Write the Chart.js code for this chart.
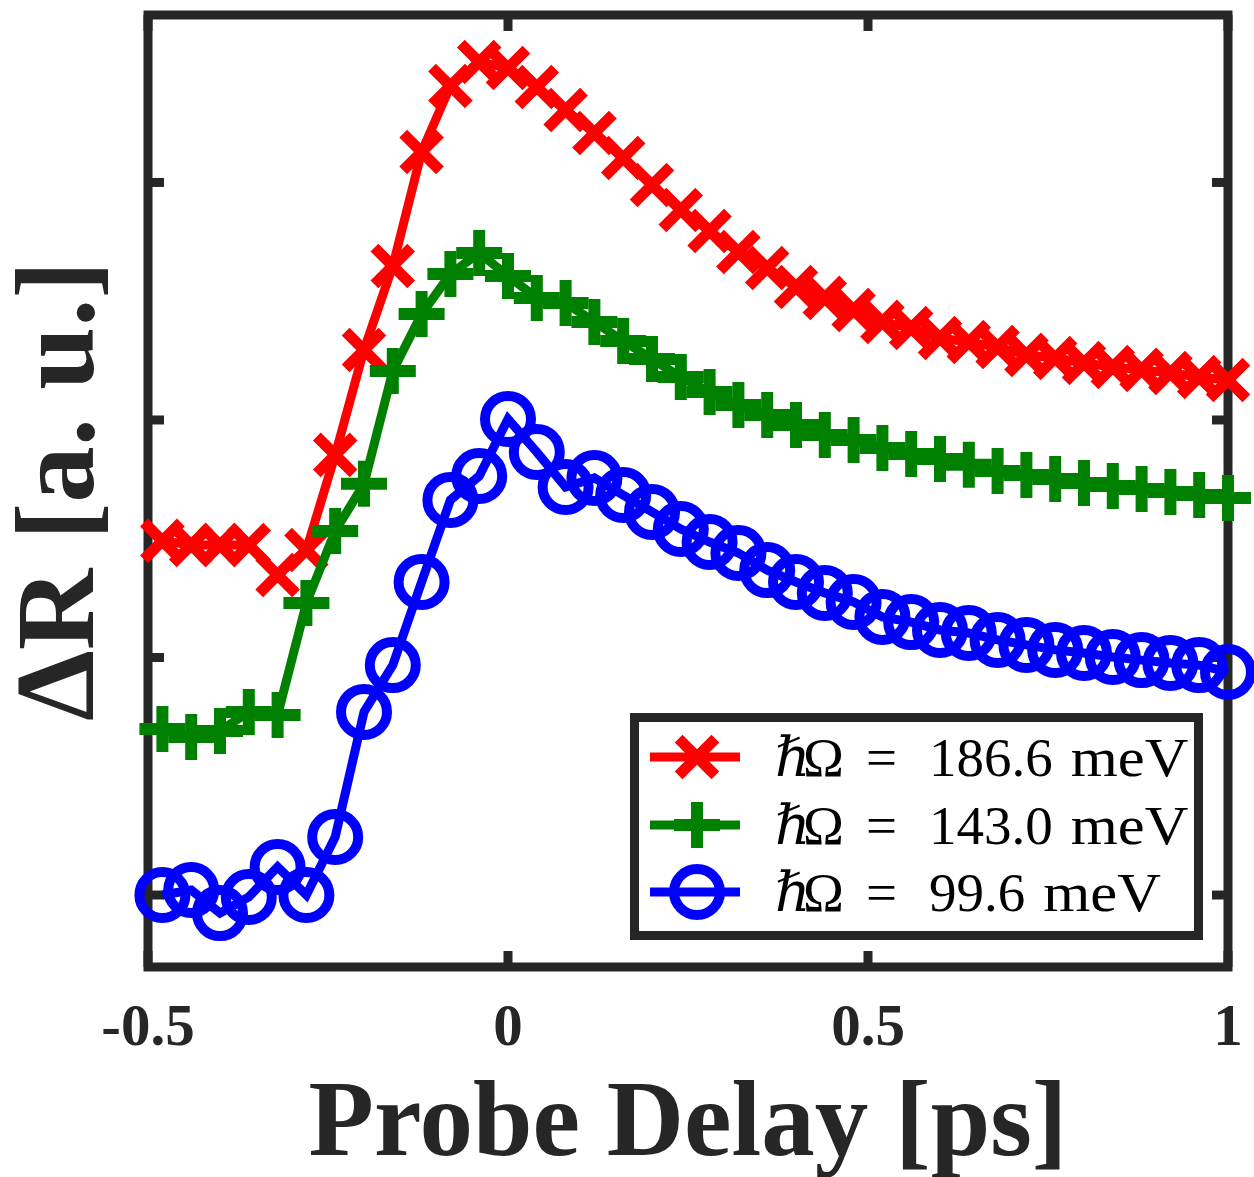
<!DOCTYPE html>
<html>
<head>
<meta charset="utf-8">
<script src="https://cdn.jsdelivr.net/npm/chart.js@4.4.1/dist/chart.umd.min.js"></script>
<style>
  html, body { margin: 0; padding: 0; background: #fff; }
  #wrap { width: 1254px; height: 1177px; }
</style>
</head>
<body>
<div id="wrap"><canvas id="delayChart" width="1254" height="1177"></canvas></div>
<script>
// probe delay (ps) and reflectivity change (a.u.) for three pump energies
const delays = [-0.48, -0.44, -0.40, -0.36, -0.32, -0.28, -0.24, -0.20, -0.16, -0.12,
                -0.08, -0.04, 0.00, 0.04, 0.08, 0.12, 0.16, 0.20, 0.24, 0.28,
                0.32, 0.36, 0.40, 0.44, 0.48, 0.52, 0.56, 0.60, 0.64, 0.68,
                0.72, 0.76, 0.80, 0.84, 0.88, 0.92, 0.96, 1.00];

const dR186 = [1.491, 1.474, 1.474, 1.474, 1.347, 1.453, 1.853, 2.295, 2.648, 3.128,
               3.406, 3.507, 3.482, 3.402, 3.305, 3.208, 3.103, 2.989, 2.884, 2.796,
               2.707, 2.640, 2.560, 2.514, 2.463, 2.413, 2.387, 2.345, 2.328, 2.307,
               2.274, 2.261, 2.240, 2.223, 2.211, 2.198, 2.181, 2.168];

const dR143 = [0.699, 0.665, 0.691, 0.771, 0.758, 1.229, 1.533, 1.731, 2.206, 2.446,
               2.615, 2.703, 2.606, 2.514, 2.493, 2.413, 2.333, 2.257, 2.181, 2.118,
               2.063, 2.021, 1.979, 1.937, 1.916, 1.882, 1.857, 1.836, 1.811, 1.785,
               1.768, 1.752, 1.735, 1.722, 1.709, 1.697, 1.684, 1.672];

const dR99 = [0.000, 0.021, -0.076, -0.008, 0.118, 0.000, 0.244, 0.771, 0.968, 1.318,
              1.663, 1.764, 2.004, 1.865, 1.718, 1.756, 1.684, 1.613, 1.541, 1.486,
              1.440, 1.368, 1.318, 1.272, 1.234, 1.171, 1.149, 1.116, 1.103, 1.074,
              1.053, 1.032, 1.019, 1.002, 0.989, 0.977, 0.968, 0.939];

const energies = ['186.6', '143.0', '99.6'];
const xTicks = [-0.5, 0, 0.5, 1];
const xTickLabels = ['-0.5', '0', '0.5', '1'];
const yTicks = [0, 1, 2, 3];

const axisColor = '#262626';
const serif = "'Liberation Serif', 'DejaVu Serif', serif";

const styles = [
  { color: '#ff0000', pointStyle: 'crossRot', radius: 26, width: 11 },
  { color: '#008000', pointStyle: 'cross', radius: 23, width: 12 },
  { color: '#0000ff', pointStyle: 'circle', radius: 23, width: 10 }
];

function makeSet(values, st, order) {
  return {
    data: delays.map((d, i) => ({ x: d, y: values[i] })),
    borderColor: st.color,
    borderWidth: 9,
    tension: 0,
    fill: false,
    clip: false,
    order: order,
    pointStyle: st.pointStyle,
    pointRadius: st.radius,
    pointBorderWidth: st.width,
    pointBorderColor: st.color,
    pointBackgroundColor: 'rgba(0,0,0,0)'
  };
}

function seg(ctx, x1, y1, x2, y2) {
  ctx.beginPath();
  ctx.moveTo(x1, y1);
  ctx.lineTo(x2, y2);
  ctx.stroke();
}

const frame = {
  id: 'frame',
  beforeDatasetsDraw(chart) {
    const { ctx, chartArea: a, scales: { x, y } } = chart;
    ctx.save();
    ctx.strokeStyle = axisColor;
    ctx.lineWidth = 9;
    ctx.lineJoin = 'miter';
    ctx.strokeRect(a.left, a.top, a.right - a.left, a.bottom - a.top);
    // inward ticks on all four sides
    const len = 16;
    xTicks.forEach(v => {
      const px = x.getPixelForValue(v);
      seg(ctx, px, a.bottom, px, a.bottom - len);
      seg(ctx, px, a.top, px, a.top + len);
    });
    yTicks.forEach(v => {
      const py = y.getPixelForValue(v);
      seg(ctx, a.left, py, a.left + len, py);
      seg(ctx, a.right, py, a.right - len, py);
    });
    ctx.restore();
  },
  afterDatasetsDraw(chart) {
    const { ctx, chartArea: a, scales: { x } } = chart;
    ctx.save();
    ctx.fillStyle = axisColor;

    // tick labels
    ctx.font = 'bold 59px ' + serif;
    ctx.textAlign = 'center';
    ctx.textBaseline = 'alphabetic';
    xTicks.forEach((v, i) => ctx.fillText(xTickLabels[i], x.getPixelForValue(v), 1045));

    // axis titles
    ctx.font = 'bold 107px ' + serif;
    ctx.fillText('Probe Delay [ps]', (a.left + a.right) / 2, 1155);
    ctx.save();
    ctx.translate(93, (a.top + a.bottom) / 2);
    ctx.rotate(-Math.PI / 2);
    ctx.font = 'bold 113px ' + serif;
    ctx.fillText('\u0394R [a. u.]', 0, 0);
    ctx.restore();

    // legend
    ctx.fillStyle = '#ffffff';
    ctx.fillRect(634, 717, 565, 219);
    ctx.strokeStyle = axisColor;
    ctx.lineWidth = 9;
    ctx.strokeRect(634.5, 717.5, 564, 218);

    const rows = [757, 825, 892];
    rows.forEach((ry, i) => {
      const st = styles[i];
      ctx.strokeStyle = st.color;
      ctx.lineWidth = 9;
      seg(ctx, 650, ry, 740, ry);
      ctx.lineWidth = st.width;
      ctx.fillStyle = 'rgba(0,0,0,0)';
      Chart.helpers.drawPoint(ctx, { pointStyle: st.pointStyle, radius: st.radius, borderWidth: st.width, rotation: 0 }, 697, ry);

      const base = ry + 19;
      ctx.fillStyle = '#000000';
      ctx.textAlign = 'left';
      ctx.font = 'italic 55px ' + serif;
      ctx.fillText('\u210F', 775, base);
      ctx.font = '55px ' + serif;
      ctx.fillText('\u03A9', 803, base);
      ctx.fillText('=', 866, base);
      ctx.fillText(energies[i], 929, base);
      const w = ctx.measureText(energies[i]).width;
      ctx.save();
      ctx.translate(929 + w + 18, base);
      ctx.scale(1.1, 1);
      ctx.fillText('meV', 0, 0);
      ctx.restore();
    });
    ctx.restore();
  }
};

new Chart(document.getElementById('delayChart'), {
  type: 'line',
  data: {
    datasets: [
      makeSet(dR186, styles[0], 3),
      makeSet(dR143, styles[1], 2),
      makeSet(dR99, styles[2], 1)
    ]
  },
  options: {
    responsive: false,
    animation: false,
    layout: { autoPadding: false, padding: { left: 148, right: 26, top: 15, bottom: 210 } },
    scales: {
      x: { type: 'linear', min: -0.5, max: 1, display: false },
      y: { type: 'linear', min: -0.303, max: 3.705, display: false }
    },
    plugins: {
      legend: { display: false },
      tooltip: { enabled: false }
    }
  },
  plugins: [frame]
});
</script>
</body>
</html>
